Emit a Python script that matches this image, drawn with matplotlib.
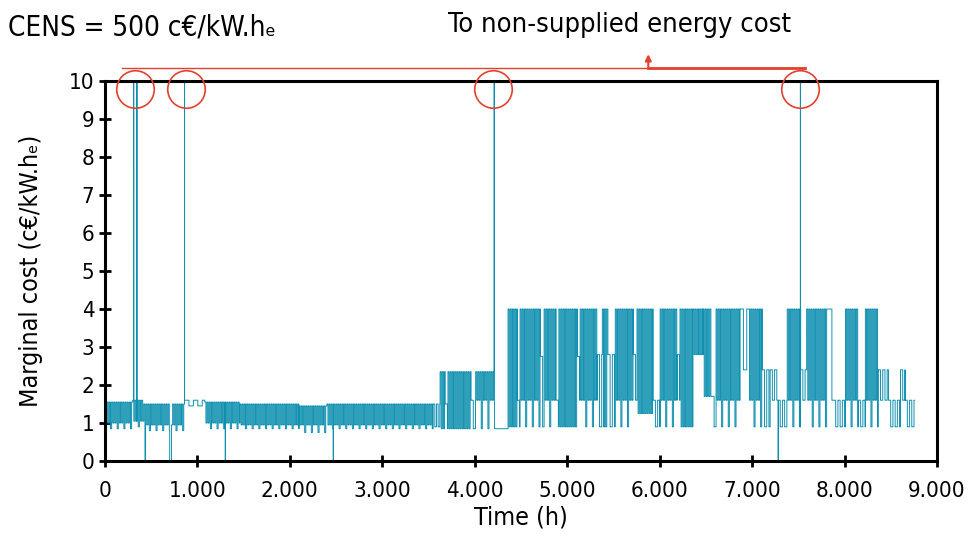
import numpy as np
import matplotlib
matplotlib.use("Agg")
from matplotlib import pyplot as plt

# regimes: start hour, upper level, lower level, deepest level, switching period (h)
seg_start = [0, 300, 420, 860, 1080, 1460, 2100, 2400,
             3550, 3625, 3680, 3710, 3960, 4010, 4215,
             4360, 4460, 4490, 4710, 4750, 4880, 4910, 5110, 5140, 5325, 5380, 5440,
             5520, 5715, 5755, 5930, 6005, 6190, 6220, 6360, 6470, 6565, 6610, 6870,
             6960, 7110, 7195, 7280, 7380, 7525, 7590, 7815, 7880, 8010, 8150, 8225,
             8365, 8475, 8605, 8655]
seg_end = seg_start[1:] + [8760]
seg_high = [1.55, 1.6, 1.5, 1.6, 1.55, 1.5, 1.45, 1.5,
            1.5, 2.35, 1.5, 2.35, 1.6, 2.35, 0.85,
            4.0, 1.6, 4.0, 2.75, 4.0, 1.6, 4.0, 2.75, 4.0, 2.8, 4.0, 2.8,
            4.0, 2.8, 4.0, 1.6, 4.0, 2.8, 4.0, 4.0, 4.0, 1.7, 4.0, 4.0,
            4.0, 2.4, 2.4, 1.6, 4.0, 2.4, 4.0, 4.0, 1.6, 4.0, 1.6, 4.0,
            2.4, 1.6, 2.4, 1.6]
seg_low = [1.0, 1.05, 0.95, 1.45, 1.0, 0.95, 0.95, 0.95,
           0.9, 0.85, 0.85, 0.85, 0.85, 1.6, 0.85,
           0.9, 0.9, 1.6, 0.9, 1.6, 0.9, 0.9, 1.6, 1.6, 0.9, 0.9, 0.9,
           1.6, 1.6, 1.25, 0.9, 1.6, 1.6, 0.9, 2.8, 1.7, 0.9, 1.6, 2.4,
           1.6, 0.9, 1.6, 0.9, 1.6, 1.6, 1.6, 1.6, 0.9, 1.6, 0.9, 1.6,
           1.6, 0.9, 1.6, 0.9]
seg_floor = [0.85, 0.9, 0.8, 1.45, 0.85, 0.85, 0.75, 0.85,
             0.7, 0.85, 0.85, 0.85, 0.85, 0.85, 0.85,
             0.9, 0.9, 0.9, 0.9, 0.9, 0.9, 0.9, 0.9, 0.9, 0.9, 0.9, 0.9,
             0.9, 0.9, 1.25, 0.9, 0.9, 1.6, 0.9, 2.8, 1.7, 0.9, 0.9, 1.6,
             0.9, 0.9, 1.6, 0.9, 0.9, 1.6, 0.9, 1.6, 0.9, 0.9, 0.9, 0.9,
             1.6, 0.9, 0.9, 0.9]
seg_period = [24, 24, 24, 96, 24, 24, 24, 24,
              36, 24, 48, 24, 48, 24, 24,
              24, 48, 24, 48, 24, 48, 24, 48, 24, 48, 24, 48,
              24, 48, 24, 48, 24, 48, 24, 24, 24, 48, 24, 72,
              24, 48, 48, 48, 24, 48, 24, 96, 48, 24, 48, 24,
              48, 48, 48, 48]

# hours where the non-supplied energy cost (500) is reached
spike_hours = [310, 345, 860, 4210, 7522]
cens = 500
# short drops to zero
dip_hours = [433, 700, 1300, 2468, 7280]
dip_len = [6, 20, 4, 4, 6]

# red circles round the spikes
circle_hours = [325, 877, 4200, 7520]

xtick_vals = list(range(0, 9001, 1000))
xtick_labels = ["0", "1.000", "2.000", "3.000", "4.000", "5.000", "6.000", "7.000", "8.000", "9.000"]

plt.rcParams["font.family"] = ["DejaVu Sans"]
plt.rcParams["font.stretch"] = "condensed"

hours = np.arange(8760)
cost = np.zeros(8760)
for s, e, hi, lo, fl, per in zip(seg_start, seg_end, seg_high, seg_low, seg_floor, seg_period):
    for h in range(s, e):
        k = h - s
        if k % per < per // 2:
            cost[h] = hi
        elif (k // per) % 3 == 2:
            cost[h] = fl
        else:
            cost[h] = lo
for h, n in zip(dip_hours, dip_len):
    cost[h:h + n] = 0
for h in spike_hours:
    cost[h] = cens

fig = plt.figure(figsize=(9.72, 5.59), dpi=100)
ax = fig.add_axes([0.108, 0.1753, 0.856, 0.6797])

ax.plot(hours, cost, drawstyle="steps-post", color="#1090b0", lw=0.7)

ax.set_xlim(0, 9000)
ax.set_ylim(0, 10)
ax.set_xticks(xtick_vals)
ax.set_xticklabels(xtick_labels)
ax.set_yticks(range(0, 11))
ax.tick_params(axis="both", direction="inout", length=9, width=2, labelsize=16)
ax.tick_params(axis="x", pad=10)
ax.tick_params(axis="y", pad=3)
for sp in ax.spines.values():
    sp.set_linewidth(2.2)
ax.set_xlabel("Time (h)", fontsize=18)
ax.set_ylabel("Marginal cost (c\u20ac/kW.h\u2091)", fontsize=18)
ax.xaxis.set_label_coords(0.5, -0.118)
ax.yaxis.set_label_coords(-0.075, 0.5)

# red annotation
red = "#e2412f"
ax.plot(circle_hours, [9.8] * len(circle_hours), ls="none", marker="o", markersize=27,
        markerfacecolor="none", markeredgecolor=red, markeredgewidth=1.2, clip_on=False, zorder=5)
ax.plot([180, 7575], [10.34, 10.34], color=red, lw=1.0, clip_on=False)
ax.plot([5877, 7575], [10.34, 10.34], color=red, lw=2.0, clip_on=False)
ax.annotate("", xy=(5877, 10.78), xytext=(5877, 10.3),
            arrowprops=dict(arrowstyle="-|>", color=red, lw=1.5, mutation_scale=9),
            annotation_clip=False)

fig.text(8 / 972, 1 - 27 / 559, "CENS = 500 c\u20ac/kW.h\u2091", fontsize=20, va="center", ha="left")
fig.text(620 / 972, 1 - 25 / 559, "To non-supplied energy cost", fontsize=19.5, va="center", ha="center")

fig.savefig("out.png", dpi=100)
